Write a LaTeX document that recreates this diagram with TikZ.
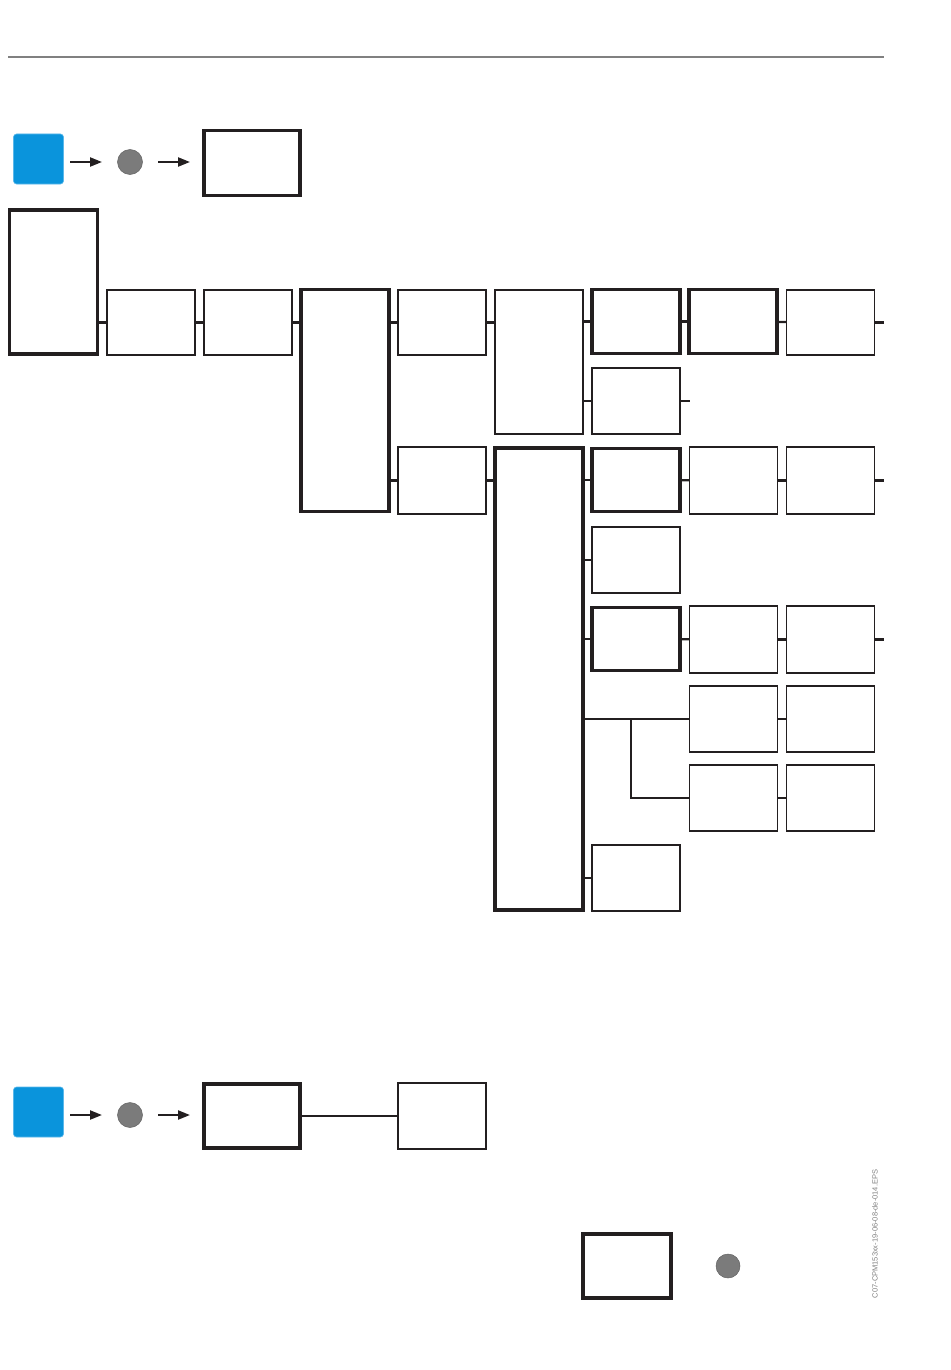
\documentclass[tikz,border=0pt]{standalone}
\usepackage{fontspec}
\setsansfont{Liberation Sans}
\usetikzlibrary{arrows.meta}
\definecolor{keyblue}{HTML}{0A94DC}
\definecolor{keyedge}{HTML}{5BB8EA}
\definecolor{dotgray}{HTML}{7B7B7B}
\definecolor{boxline}{HTML}{231F20}
\tikzset{
  menubox/.style={draw=boxline, line width=1.2pt, minimum width=88pt, minimum height=65pt, inner sep=0pt},
  mainbox/.style={menubox, line width=3.3pt},
  link/.style={draw=boxline, line width=2.3pt},
  keysq/.style={fill=keyblue, draw=keyedge, line width=.6pt, rounded corners=3pt, minimum size=50pt, inner sep=0pt},
  dot/.style={circle, fill=dotgray, draw=dotgray!80!black, line width=.5pt, minimum size=25pt, inner sep=0pt},
  go/.style={draw=boxline, line width=2.2pt, -{Triangle[length=12pt,width=9pt]}},
}
\begin{document}
\begin{tikzpicture}[x=1pt, y=-1pt]
    \useasboundingbox (0,0) rectangle (950,1370);
    \draw[gray, line width=1.1pt] (8,57) -- (884,57);
    % top entry
    \node[keysq] (k1) at (38.5,159) {};
    \node[dot] (d1) at (130,162) {};
    \node[mainbox, minimum width=96pt] (e1) at (252,163) {};
    \draw[go] (70,162) -- (102,162);
    \draw[go] (158,162) -- (190,162);
    % menu tree
    \node[mainbox, minimum height=144pt] (m0) at (53.5,282) {};
    \node[menubox] (m1) at (151,322.5) {};
    \node[menubox] (m2) at (248,322.5) {};
    \node[mainbox, minimum height=222pt] (m3) at (345,400.5) {};
    \node[menubox] (a1) at (442,322.5) {};
    \node[menubox, minimum height=67pt] (a2) at (442,480.5) {};
    \node[menubox, minimum height=144pt] (b1) at (539,362) {};
    \node[mainbox, minimum height=64pt] (c1) at (636,321.5) {};
    \node[mainbox, minimum height=64pt] (c2) at (733,321.5) {};
    \node[menubox] (c3) at (830.5,322.5) {};
    \node[menubox, minimum height=66pt] (c4) at (636,401) {};
    \node[mainbox, minimum height=462pt] (b2) at (539,679) {};
    \node[mainbox, minimum height=63pt] (f1) at (636,480) {};
    \node[menubox, minimum height=67pt] (f2) at (733.5,480.5) {};
    \node[menubox, minimum height=67pt] (f3) at (830.5,480.5) {};
    \node[menubox, minimum height=66pt] (g1) at (636,560) {};
    \node[mainbox, minimum height=63pt] (h1) at (636,639) {};
    \node[menubox, minimum height=67pt] (h2) at (733.5,639.5) {};
    \node[menubox, minimum height=67pt] (h3) at (830.5,639.5) {};
    \node[menubox, minimum height=66pt] (i1) at (733.5,719) {};
    \node[menubox, minimum height=66pt] (i2) at (830.5,719) {};
    \node[menubox, minimum height=66pt] (j1) at (733.5,798) {};
    \node[menubox, minimum height=66pt] (j2) at (830.5,798) {};
    \node[menubox, minimum height=66pt] (l1) at (636,878) {};
    \draw[link] (m0.east |- m1.west) -- (m1.west);
    \draw[link] (m1) -- (m2);
    \draw[link] (m2.east) -- (m3.west |- m2.east);
    \draw[link] (m3.east |- a1.west) -- (a1.west);
    \draw[link] (m3.east |- a2.west) -- (a2.west);
    \draw[link] (a1.east) -- (b1.west |- a1.east);
    \draw[link] (a2.east) -- (b2.west |- a2.east);
    \draw[link] (b1.east |- c1.west) -- (c1.west);
    \draw[link] (c1) -- (c2);
    \draw[link] (c2) -- (c3);
    \draw[link] (c3.east) -- ++(9,0);
    \draw[link] (b1.east |- c4.west) -- (c4.west);
    \draw[link] (c4.east) -- ++(9,0);
    \draw[link] (b2.east |- f1.west) -- (f1.west);
    \draw[link] (f1) -- (f2);
    \draw[link] (f2) -- (f3);
    \draw[link] (f3.east) -- ++(9,0);
    \draw[link] (b2.east |- g1.west) -- (g1.west);
    \draw[link] (b2.east |- h1.west) -- (h1.west);
    \draw[link] (h1) -- (h2);
    \draw[link] (h2) -- (h3);
    \draw[link] (h3.east) -- ++(9,0);
    \draw[link] (b2.east |- i1.west) -- (i1.west);
    \draw[link] (631,719) |- (j1.west);
    \draw[link] (i1) -- (i2);
    \draw[link] (j1) -- (j2);
    \draw[link] (b2.east |- l1.west) -- (l1.west);
    % bottom entry
    \node[keysq] (k2) at (38.5,1112) {};
    \node[dot] (d2) at (130,1115) {};
    \node[mainbox, minimum width=96pt, minimum height=64pt] (e2) at (252,1116) {};
    \node[menubox, minimum height=66pt] (e3) at (442,1116) {};
    \draw[go] (70,1115) -- (102,1115);
    \draw[go] (158,1115) -- (190,1115);
    \draw[link, line width=1.8pt] (e2.east) -- (e3.west |- e2.east);
    % legend
    \node[mainbox, minimum height=64pt] (n1) at (627,1266) {};
    \node[dot, minimum size=24pt] (n2) at (728,1266) {};
    \node[rotate=90, text=gray, inner sep=0pt, font=\sffamily\fontsize{7.5}{8}\selectfont] (tag) at (875,1234) {C07-CPM153xx-19-06-08-de-014.EPS};
\end{tikzpicture}
\end{document}
